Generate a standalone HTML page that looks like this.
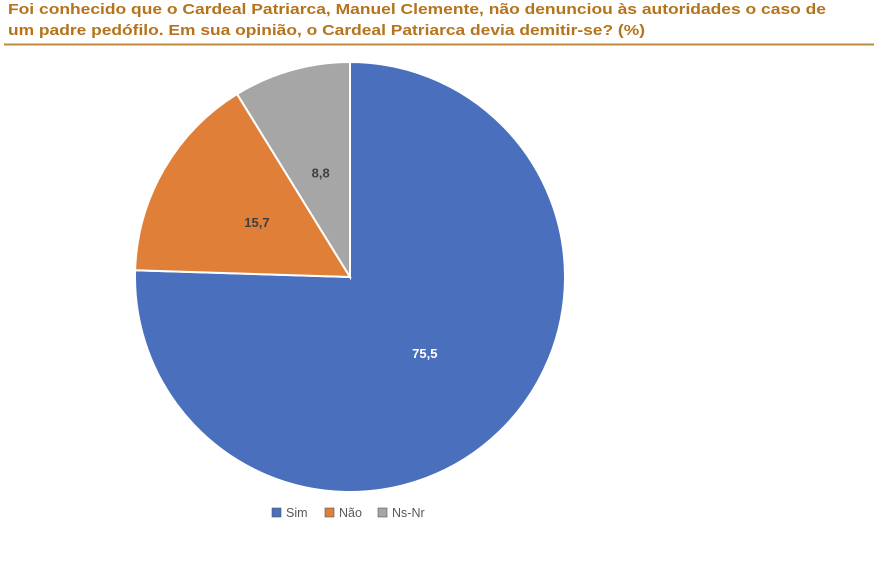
<!DOCTYPE html>
<html><head><meta charset="utf-8"><style>
html,body{margin:0;padding:0;background:#fff;width:874px;height:561px;overflow:hidden}
svg{display:block}
</style></head><body>
<svg width="874" height="561" font-family="Liberation Sans, sans-serif">
<text x="8" y="14" font-size="15" font-weight="bold" fill="#b5731b" textLength="818" lengthAdjust="spacingAndGlyphs">Foi conhecido que o Cardeal Patriarca, Manuel Clemente, não denunciou às autoridades o caso de</text>
<text x="8" y="35" font-size="15" font-weight="bold" fill="#b5731b" textLength="637" lengthAdjust="spacingAndGlyphs">um padre pedófilo. Em sua opinião, o Cardeal Patriarca devia demitir-se? (%)</text>
<line x1="4" y1="44.5" x2="874" y2="44.5" stroke="#c08a3e" stroke-width="2"/>
<g id="slices"></g>
<g id="labels"></g>
<g id="legend"></g>
</svg>
<script>
const categories = ["Sim","Não","Ns-Nr"];
const values = [75.5, 15.7, 8.8];
const labels = ["75,5","15,7","8,8"];
const colors = ["#4a70bd","#e07f38","#a6a6a6"];
const labelColors = ["#ffffff","#404040","#404040"];
const cx=350, cy=277, r=215;
const ns="http://www.w3.org/2000/svg";
const total=values.reduce((a,b)=>a+b,0);
let acc=0;
const gS=document.getElementById('slices'), gL=document.getElementById('labels'), gLg=document.getElementById('legend');
function pt(a,rr){return [cx+rr*Math.sin(a), cy-rr*Math.cos(a)];}
values.forEach((v,i)=>{
  const a0=acc/total*2*Math.PI; acc+=v; const a1=acc/total*2*Math.PI;
  const p0=pt(a0,r), p1=pt(a1,r);
  const large=(a1-a0)>Math.PI?1:0;
  const p=document.createElementNS(ns,'path');
  p.setAttribute('d',`M${cx},${cy} L${p0[0]},${p0[1]} A${r},${r} 0 ${large} 1 ${p1[0]},${p1[1]} Z`);
  p.setAttribute('fill',colors[i]); p.setAttribute('stroke','#fff'); p.setAttribute('stroke-width','2');
  
  
  gS.appendChild(p);
  const am=(a0+a1)/2; const lp=pt(am, r*0.5);
  const t=document.createElementNS(ns,'text');
  t.setAttribute('x',lp[0]); t.setAttribute('y',lp[1]+4);
  t.setAttribute('text-anchor','middle'); t.setAttribute('font-size','13'); t.setAttribute('font-weight','bold');
  t.setAttribute('fill',labelColors[i]); t.textContent=labels[i];
  
  
  gL.appendChild(t);
});
const lx=[272,325,378];
categories.forEach((c,i)=>{
  const g=document.createElementNS(ns,'g');
  
  
  const s=document.createElementNS(ns,'rect');
  s.setAttribute('x',lx[i]); s.setAttribute('y',508); s.setAttribute('width',9); s.setAttribute('height',9);
  s.setAttribute('fill',colors[i]); s.setAttribute('stroke','#555'); s.setAttribute('stroke-width','0.6');
  const t=document.createElementNS(ns,'text');
  t.setAttribute('x',lx[i]+14); t.setAttribute('y',517); t.setAttribute('font-size','12.5'); t.setAttribute('fill','#595959');
  t.textContent=c;
  g.appendChild(s); g.appendChild(t); gLg.appendChild(g);
});
</script>
</body></html>
